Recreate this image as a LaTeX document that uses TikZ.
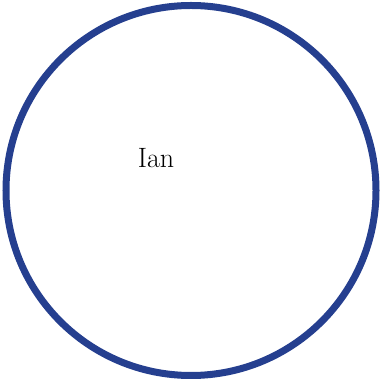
\documentclass[tikz,border=0pt]{standalone}
\usepackage{tikz}
\usetikzlibrary{positioning}
\definecolor{ringblue}{HTML}{253F8F}
\tikzset{
  ring/.style={
    circle, draw=ringblue, line width=7pt, minimum size=370pt,
    inner sep=0pt
  },
  namelabel/.style={
    font=\fontsize{28}{32}\selectfont, inner sep=0pt
  },
}
\begin{document}
\begin{tikzpicture}[x=1pt,y=1pt]
  \useasboundingbox (0,0) rectangle (379,379);
  \node[ring] (set) at (191,188.5) {};
  \node[namelabel, anchor=base] (ian) at (156,211) {Ian};
\end{tikzpicture}
\end{document}
